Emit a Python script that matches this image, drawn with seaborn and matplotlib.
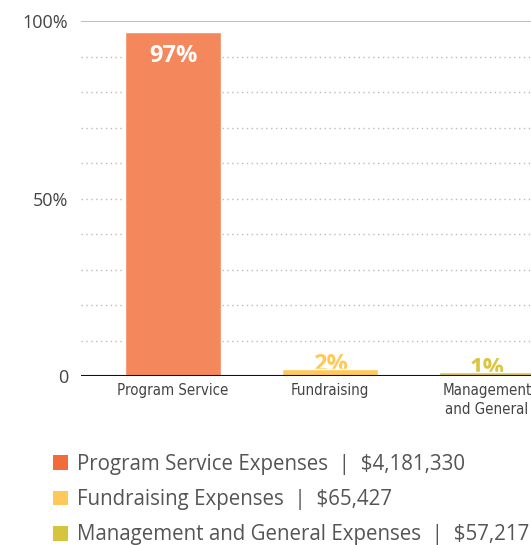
import matplotlib
matplotlib.use("Agg")
import matplotlib.pyplot as plt
import seaborn as sns
import pandas as pd
from matplotlib.patches import Patch

categories = ["Program Service", "Fundraising", "Management\nand General"]
pcts = [97, 2, 1]
bar_colors = ["#F4875B", "#FFC95A", "#D9C63E"]
legend_colors = ["#F26B3A", "#FFC95A", "#D6C43C"]
legend_names = ["Program Service Expenses", "Fundraising Expenses",
                "Management and General Expenses"]
amounts = ["$4,181,330", "$65,427", "$57,217"]
yticks = [0, 50, 100]
ytick_labels = ["0", "50%", "100%"]

df = pd.DataFrame({"category": categories, "pct": pcts})

sns.set_style("white")
plt.rcParams["font.family"] = ["Open Sans", "DejaVu Sans"]

fig = plt.figure(figsize=(5.31, 5.45), dpi=100)
ax = fig.add_axes([0.1525, 0.31, 0.8475, 0.6514])

sns.barplot(data=df, x="category", y="pct", hue="category",
            palette=bar_colors, width=0.61, saturation=1, legend=False,
            ax=ax, zorder=3)

ax.set_ylim(0, 100)
ax.set_xlim(-0.586, 2.28)

# dotted gridlines every 10%
for v in range(10, 100, 10):
    ax.axhline(v, color="#BBBBBB", lw=1, ls=(0, (1, 2.5)), zorder=1)
ax.axhline(100, color="#BBBBBB", lw=1.3, zorder=1)
ax.axhline(0, color="#111111", lw=1.5, zorder=4)

for s in ax.spines.values():
    s.set_visible(False)

ax.set_yticks(yticks)
ax.set_yticklabels(ytick_labels, fontsize=13, color="#444444")
ax.tick_params(axis="y", length=0, pad=9)
ax.set_xticks(range(len(categories)))
ax.set_xticklabels(categories, fontsize=10.8, color="#444444",
                   family="DejaVu Sans", fontstretch="condensed",
                   linespacing=1.3)
ax.tick_params(axis="x", length=0, pad=5)
ax.set_xlabel("")
ax.set_ylabel("")

for i, v in enumerate(pcts):
    if v > 10:
        ax.text(i, v - 3.5, f"{v}%", ha="center", va="top", color="white",
                fontsize=17, fontweight="bold", zorder=5)
    else:
        ax.text(i, v - 2.4, f"{v}%", ha="center", va="bottom",
                color=bar_colors[i], fontsize=17, fontweight="bold",
                zorder=2)

handles = [Patch(facecolor=c, edgecolor="none") for c in legend_colors]
labels = [f"{n}  |  {a}" for n, a in zip(legend_names, amounts)]
fig.legend(handles, labels, loc="lower left", bbox_to_anchor=(0.085, -0.016),
           frameon=False, fontsize=14.8, labelcolor="#555555",
           handlelength=0.72, handleheight=0.72, handletextpad=0.42,
           labelspacing=0.7, borderaxespad=0)

fig.savefig("out.png", dpi=100)
